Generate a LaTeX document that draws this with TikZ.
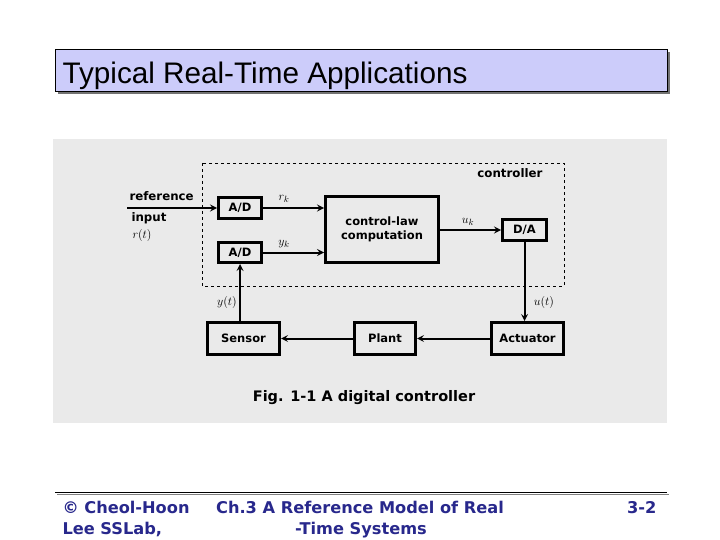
\documentclass[tikz,border=0pt]{standalone}
\usepackage{fontspec}
\setmainfont{Liberation Sans}
\newfontfamily\labelfont{DejaVu Sans}
\usetikzlibrary{positioning}

\definecolor{titlefill}{RGB}{204,204,250}
\definecolor{panelgray}{RGB}{234,234,234}
\definecolor{footblue}{RGB}{40,40,140}

\tikzset{
  blockbox/.style={draw, line width=3pt, fill=panelgray, inner sep=0pt,
    align=center, font=\labelfont\bfseries\fontsize{11.5}{14}\selectfont},
  conn/.style={->, line width=2pt},
  sig/.style={font=\fontsize{12.5}{14}\selectfont},
  lbl/.style={font=\labelfont\bfseries\fontsize{11.8}{14}\selectfont},
  foot/.style={text=footblue, font=\labelfont\bfseries\fontsize{16.2}{18}\selectfont},
}

\begin{document}
\begin{tikzpicture}[x=1pt, y=-1pt, >=stealth]
    \useasboundingbox (0,0) rectangle (720,540);

    % title bar
    \fill[gray!90!black] (58,52) rectangle (670,94);
    \draw[fill=titlefill, line width=0.4pt] (55,49) rectangle (667,91);
    \node[anchor=base west, font=\fontsize{29.7}{32}\selectfont] (title) at (59,84) {Typical Real-Time Applications};

    % figure panel
    \fill[panelgray] (53,139) rectangle (667,423);
    \draw[dashed, line width=0.8pt] (202,163) rectangle (564,286);
    \node[lbl, anchor=base east] (ctrl) at (546,178) {controller};

    % blocks
    \node[blockbox, minimum width=43, minimum height=21] (ad1) at (240,208) {A/D};
    \node[blockbox, minimum width=43, minimum height=20] (ad2) at (240,252.5) {A/D};
    \node[blockbox, minimum width=113, minimum height=65] (law) at (382,229.5) {control-law\\computation};
    \node[blockbox, minimum width=44, minimum height=21] (da) at (524.5,230) {D/A};
    \node[blockbox, minimum width=72, minimum height=32] (sensor) at (243.5,338.5) {Sensor};
    \node[blockbox, minimum width=61, minimum height=32] (plant) at (385,338.5) {Plant};
    \node[blockbox, minimum width=72, minimum height=32] (actuator) at (527.5,338.5) {Actuator};

    % reference input
    \coordinate (refin) at (127,208);
    \node[lbl, anchor=base west] (refword) at (126,201) {reference};
    \node[lbl, anchor=base west] (inword) at (128,222) {input};
    \node[sig] (rt) at (142,235) {$r(t)$};

    % connectors
    \draw[conn] (refin) -- (ad1.west);
    \draw[conn] (ad1.east) -- (ad1.east -| law.west);
    \draw[conn] (ad2.east) -- (ad2.east -| law.west);
    \draw[conn] (law.east |- da.west) -- (da.west);
    \draw[conn] (da.south) -- (da.south |- actuator.north);
    \draw[conn] (actuator.west) -- (plant.east);
    \draw[conn] (plant.west) -- (sensor.east);
    \draw[conn] (ad2.south |- sensor.north) -- (ad2.south);

    % signal names
    \node[sig] (rk) at (284,199) {$r_k$};
    \node[sig] (yk) at (284,244) {$y_k$};
    \node[sig] (uk) at (468,222) {$u_k$};
    \node[sig] (yt) at (227,302) {$y(t)$};
    \node[sig] (ut) at (544,302) {$u(t)$};

    \node[lbl, anchor=base, font=\labelfont\bfseries\fontsize{14.5}{17}\selectfont] (caption) at (364,401) {Fig. 1-1 A digital controller};

    % footer
    \draw[gray, line width=1pt] (57,494.5) -- (669,494.5);
    \draw[line width=1pt] (55,492.5) -- (667,492.5);
    \node[foot, anchor=base west] (copy1) at (59,513) {© Cheol-Hoon};
    \node[foot, anchor=base west] (copy2) at (59,534) {Lee SSLab,};
    \node[foot, anchor=base] (chap1) at (360,513) {Ch.3 A Reference Model of Real};
    \node[foot, anchor=base] (chap2) at (361,534) {-Time Systems};
    \node[foot, anchor=base east] (page) at (660,513) {3-2};
\end{tikzpicture}
\end{document}
